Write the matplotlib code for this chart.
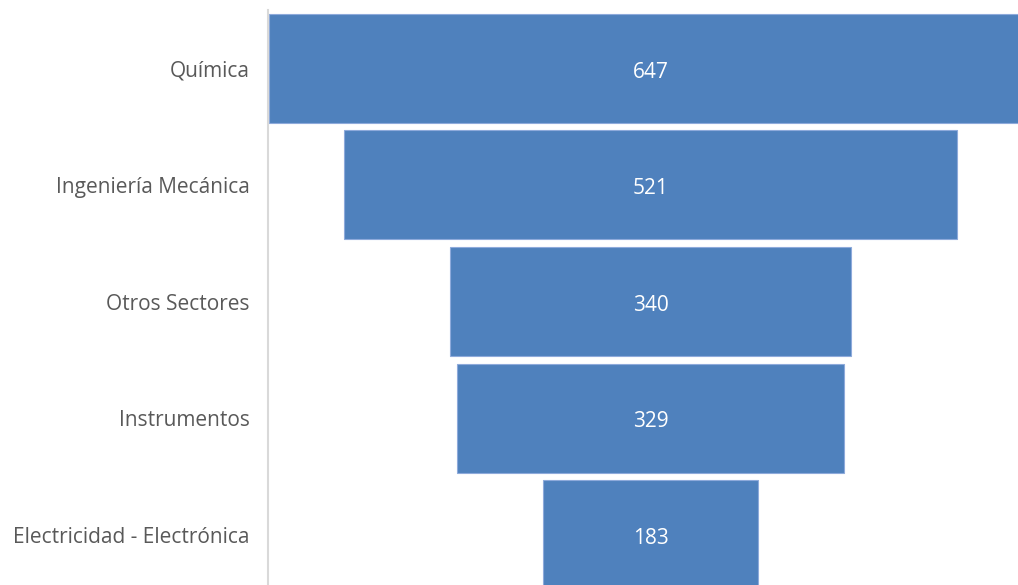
import matplotlib.pyplot as plt
import numpy as np

# datos del embudo
categorias = ["Química", "Ingeniería Mecánica", "Otros Sectores",
              "Instrumentos", "Electricidad - Electrónica"]
valores = [647, 521, 340, 329, 183]

plt.rcParams['font.family'] = ['Open Sans', 'DejaVu Sans']

fig = plt.figure(figsize=(10.18, 5.85), dpi=100)
# el gráfico original está recortado a la derecha y abajo
ax = fig.add_axes([268 / 1018, -8 / 585, 765 / 1018, 583 / 585])

y = np.arange(len(categorias))
v = np.array(valores, dtype=float)
ax.barh(y, v, left=-v / 2, height=0.935, color='#4F81BD',
        edgecolor='#8EAADB', linewidth=0.8)

for yi, val in zip(y, valores):
    ax.text(0, yi + 0.012, str(val), ha='center', va='center_baseline',
            color='white', fontsize=15)

half = 324.7
ax.set_xlim(-half, half)
ax.set_ylim(len(categorias) - 0.5, -0.5)

ax.set_yticks(y)
ax.set_yticklabels(categorias, fontsize=15, color='#595959', va='center_baseline')
ax.tick_params(axis='y', length=0, pad=13)
ax.set_xticks([])

for s in ['top', 'right', 'bottom']:
    ax.spines[s].set_visible(False)
ax.spines['left'].set_color('#D9D9D9')
ax.spines['left'].set_linewidth(1.5)

fig.savefig("out.png", dpi=100)
